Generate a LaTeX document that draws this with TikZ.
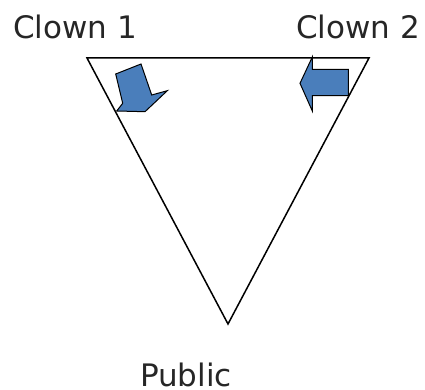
\documentclass[tikz,border=0pt]{standalone}
\usepackage{fontspec}
\setmainfont{DejaVu Sans}
\definecolor{arrowblue}{HTML}{4A7EBB}
\begin{document}
\begin{tikzpicture}[x=1pt,y=-1pt,
  lbl/.style={font=\fontsize{31}{36}\selectfont, text=black!85, inner sep=0pt, anchor=base},
  edge/.style={draw=black, line width=1.5pt, line join=miter},
  blockarrow/.style={draw=black, fill=arrowblue, line width=1pt, line join=miter}]
\useasboundingbox (0,0) rectangle (425,390);
\coordinate (tl) at (87,58);
\coordinate (tr) at (369,58);
\coordinate (bt) at (228,324);
\draw[edge] (tl) -- (tr) -- (bt) -- cycle;
\node[lbl] (c1) at (75,38.3) {Clown 1};
\node[lbl] (c2) at (358,38.3) {Clown 2};
\node[lbl] (pub) at (186,386.5) {Public};
% left arrow
\draw[blockarrow] (115.7,74) -- (141,64) -- (151.7,95) -- (167.3,90.7) -- (145,111.7) -- (116.7,111) -- (122.7,103.3) -- cycle;
% right arrow
\draw[blockarrow] (300,83.3) -- (312.3,57) -- (312.3,69.3) -- (348.3,69.3) -- (348.3,95.7) -- (312.3,95.7) -- (312.3,111) -- cycle;
\end{tikzpicture}
\end{document}
